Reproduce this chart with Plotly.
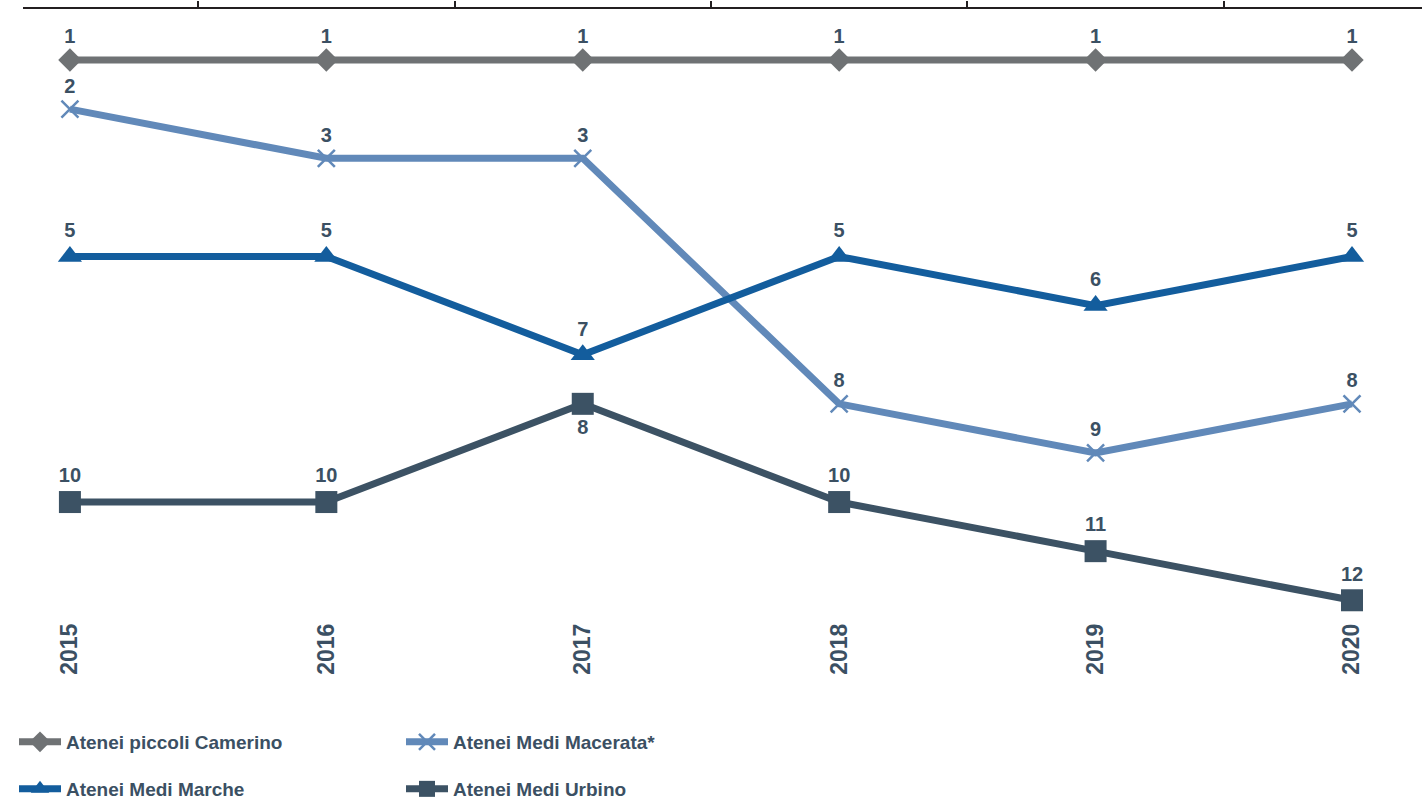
import plotly.graph_objects as go

years = ["2015", "2016", "2017", "2018", "2019", "2020"]
camerino = [1, 1, 1, 1, 1, 1]
macerata = [2, 3, 3, 8, 9, 8]
marche = [5, 5, 7, 5, 6, 5]
urbino = [10, 10, 8, 10, 11, 12]

names = ["Atenei piccoli Camerino", "Atenei Medi Macerata*", "Atenei Medi Marche", "Atenei Medi Urbino"]

TXT = "#3b5063"
FONT = "Liberation Sans, Arial, sans-serif"
xs = list(range(len(years)))

fig = go.Figure()

def add(vals, name, color, symbol, size, legend, textpos=None, mline=None):
    marker = dict(symbol=symbol, size=size, color=color)
    if mline:
        marker["line"] = dict(width=mline, color=color)
    fig.add_trace(go.Scatter(
        x=xs, y=vals, name=name, mode="lines+markers+text",
        line=dict(color=color, width=7),
        marker=marker,
        text=[str(v) for v in vals],
        textposition=textpos or "top center",
        textfont=dict(family=FONT, size=20, color=TXT, weight="bold"),
        legend=legend, hoverinfo="skip",
        cliponaxis=False,
    ))

add(camerino, names[0], "#6f7274", "diamond", 18, "legend")
add(macerata, names[1], "#6189b9", "x-thin", 17, "legend2", mline=2.5)
add(marche, names[2], "#135d9d", "triangle-up", 21, "legend3")
add(urbino, names[3], "#3c5264", "square", 22, "legend4",
    textpos=["top center", "top center", "bottom center", "top center", "top center", "top center"])

# invisible trace on top axis
fig.add_trace(go.Scatter(x=xs, y=camerino, xaxis="x2", mode="markers",
                         marker=dict(opacity=0), showlegend=False, hoverinfo="skip"))

xr = [-0.183, 5.273]
legfont = dict(family=FONT, size=19, color=TXT, weight="bold")

def leg(xpx, ypx):
    return dict(x=xpx / 1422, y=1 - ypx / 803, xref="container", yref="container",
                xanchor="left", yanchor="middle", orientation="v",
                font=legfont, itemwidth=42, bgcolor="rgba(0,0,0,0)",
                borderwidth=0)

fig.update_layout(
    width=1422, height=803,
    margin=dict(l=23, r=0, t=9, b=188, autoexpand=False),
    plot_bgcolor="white", paper_bgcolor="white",
    xaxis=dict(range=xr, tickvals=xs, ticktext=years, tickangle=-90,
               showgrid=False, zeroline=False, showline=False, ticks="",
               tickfont=dict(family=FONT, size=23, color=TXT, weight="bold"),
               ticklabelstandoff=3, automargin=False),
    xaxis2=dict(range=xr, overlaying="x", side="top", showline=True,
                linecolor="#231f20", linewidth=2, ticks="outside", ticklen=6,
                tickcolor="#231f20", tickwidth=2,
                tickvals=[i + 0.5 for i in xs[:-1]], showticklabels=False,
                showgrid=False, zeroline=False, automargin=False),
    yaxis=dict(range=[12.3, -0.04], showgrid=False, zeroline=False,
               showline=False, showticklabels=False, ticks="", automargin=False),
    legend=leg(14, 742),
    legend2=leg(401, 742),
    legend3=leg(14, 789),
    legend4=leg(401, 789),
    showlegend=True,
)

fig.write_html("out.html")
